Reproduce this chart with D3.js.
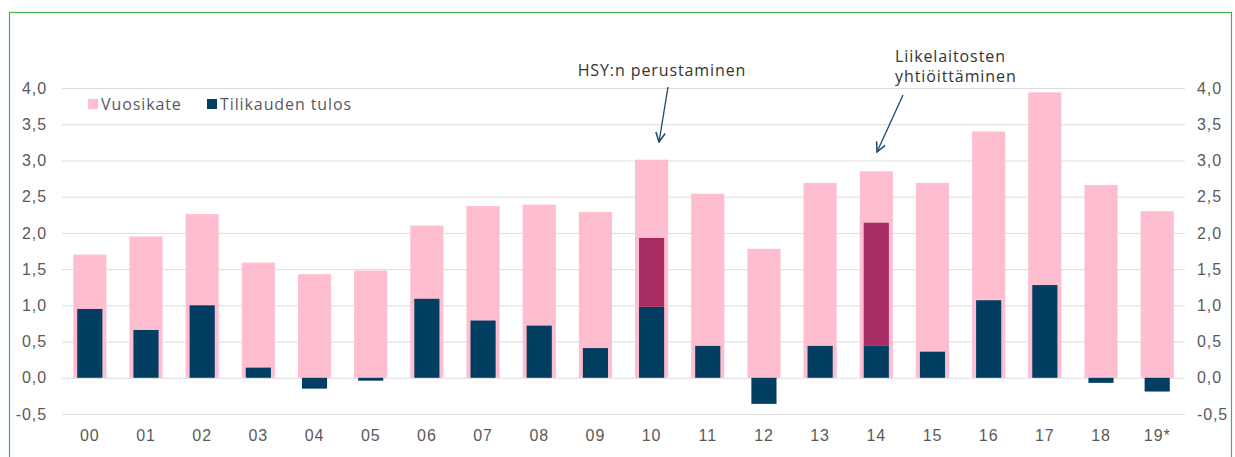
<!DOCTYPE html>
<html>
<head>
<meta charset="utf-8">
<script src="https://cdn.jsdelivr.net/npm/d3@7"></script>
<style>
  body { margin: 0; background: #fff; }
  svg { display: block; font-family: "Open Sans", sans-serif; letter-spacing: 0.9px; }
</style>
</head>
<body>
<div id="chart"></div>
<script>
// Data
const years = ["00", "01", "02", "03", "04", "05", "06", "07", "08", "09",
               "10", "11", "12", "13", "14", "15", "16", "17", "18", "19*"];
const vuosikate = [1.70, 1.95, 2.26, 1.59, 1.43, 1.48, 2.10, 2.37, 2.39, 2.29,
                   3.01, 2.54, 1.78, 2.69, 2.85, 2.69, 3.40, 3.94, 2.66, 2.30];
const tulos = [0.95, 0.66, 1.00, 0.14, -0.15, -0.04, 1.09, 0.79, 0.72, 0.41,
               0.98, 0.44, -0.36, 0.44, 0.44, 0.36, 1.07, 1.28, -0.07, -0.19];
// kertaluonteiset erät (purple part on top of tulos)
const kertaerat = [0, 0, 0, 0, 0, 0, 0, 0, 0, 0,
                   0.95, 0, 0, 0, 1.70, 0, 0, 0, 0, 0];
const yTicks = [-0.5, 0, 0.5, 1, 1.5, 2, 2.5, 3, 3.5, 4];
const legendLabels = ["Vuosikate", "Tilikauden tulos"];

const width = 1235, height = 457;
const margin = { top: 88, right: 50, bottom: 43, left: 62 };
const plotRight = 1185;
const fontSize = "16px";

const svg = d3.select("#chart").append("svg")
    .attr("width", width)
    .attr("height", height);

// vihreä kehys
svg.append("rect")
    .attr("x", 9.5).attr("y", 12.5)
    .attr("width", 1222).attr("height", 460)
    .attr("fill", "none")
    .attr("stroke", "#3cb44b")
    .attr("stroke-width", 1.2);

const x = d3.scaleBand()
    .domain(years)
    .range([margin.left, plotRight])
    .paddingInner(0.41)
    .paddingOuter(0.2);

const y = d3.scaleLinear()
    .domain([-0.5, 4])
    .range([414, 88]);

const fmt = d => d3.format(".1f")(d).replace(".", ",").replace("−", "-");

// grid
svg.append("g")
    .attr("transform", `translate(${margin.left},0)`)
    .call(d3.axisLeft(y).tickValues(yTicks).tickSize(-(plotRight - margin.left)).tickFormat(""))
    .call(g => g.select(".domain").remove())
    .selectAll("line")
    .attr("stroke", "#dcdcdc");

// vasen akseli
svg.append("g")
    .attr("transform", `translate(${margin.left},0)`)
    .call(d3.axisLeft(y).tickValues(yTicks).tickSize(0).tickPadding(15).tickFormat(fmt))
    .call(g => g.select(".domain").remove())
    .selectAll("text")
    .attr("fill", "#595959")
    .style("font-size", fontSize)
    .style("font-family", "inherit");

// oikea akseli
svg.append("g")
    .attr("transform", `translate(${plotRight},0)`)
    .call(d3.axisRight(y).tickValues(yTicks).tickSize(0).tickPadding(12).tickFormat(fmt))
    .call(g => g.select(".domain").remove())
    .selectAll("text")
    .attr("fill", "#595959")
    .style("font-size", fontSize)
    .style("font-family", "inherit");

// x-akseli
svg.append("g")
    .attr("transform", `translate(0,${y(-0.5)})`)
    .call(d3.axisBottom(x).tickSize(0).tickPadding(16))
    .call(g => g.select(".domain").remove())
    .selectAll("text")
    .attr("fill", "#595959")
    .style("font-size", fontSize)
    .style("font-family", "inherit");

const inset = 4;

// Vuosikate
svg.selectAll(".vk")
    .data(years)
    .enter()
    .append("rect")
    .attr("class", "vk")
    .attr("x", d => x(d))
    .attr("width", x.bandwidth())
    .attr("y", (d, i) => y(vuosikate[i]))
    .attr("height", (d, i) => y(0) - y(vuosikate[i]))
    .attr("fill", "#ffbdd0");

// Tilikauden tulos
svg.selectAll(".tt")
    .data(years)
    .enter()
    .append("rect")
    .attr("class", "tt")
    .attr("x", d => x(d) + inset)
    .attr("width", x.bandwidth() - 2 * inset)
    .attr("y", (d, i) => y(Math.max(0, tulos[i])))
    .attr("height", (d, i) => Math.abs(y(tulos[i]) - y(0)))
    .attr("fill", "#023e62");

// kertaluonteinen erä
svg.selectAll(".ke")
    .data(years.filter((d, i) => kertaerat[i] > 0))
    .enter()
    .append("rect")
    .attr("class", "ke")
    .attr("x", d => x(d) + inset)
    .attr("width", x.bandwidth() - 2 * inset)
    .attr("y", d => { const i = years.indexOf(d); return y(tulos[i] + kertaerat[i]); })
    .attr("height", d => { const i = years.indexOf(d); return y(tulos[i]) - y(tulos[i] + kertaerat[i]); })
    .attr("fill", "#a62c63");

// selite
const legend = svg.append("g").attr("transform", "translate(88,104)");
const legendColors = ["#ffbdd0", "#023e62"];
const legendX = [0, 119];
legendLabels.forEach((label, i) => {
    legend.append("rect")
        .attr("x", legendX[i]).attr("y", -5)
        .attr("width", 10).attr("height", 10)
        .attr("fill", legendColors[i]);
    legend.append("text")
        .attr("x", legendX[i] + 13).attr("y", 0)
        .attr("dy", "0.35em")
        .attr("fill", "#595959")
        .style("font-size", fontSize)
        .text(label);
});

// huomautukset
svg.append("defs").append("marker")
    .attr("id", "arrow")
    .attr("viewBox", "0 0 10 10")
    .attr("refX", 9).attr("refY", 5)
    .attr("markerWidth", 9).attr("markerHeight", 9)
    .attr("orient", "auto")
    .append("path")
    .attr("d", "M1,1 L9,5 L1,9")
    .attr("fill", "none")
    .attr("stroke", "#1d4a66")
    .attr("stroke-width", 1.3);

svg.append("text")
    .attr("x", 662).attr("y", 76)
    .attr("text-anchor", "middle")
    .attr("fill", "#333")
    .style("font-size", fontSize)
    .text("HSY:n perustaminen");

svg.append("line")
    .attr("x1", 668).attr("y1", 87)
    .attr("x2", 659).attr("y2", 142)
    .attr("stroke", "#1d4a66")
    .attr("stroke-width", 1.3)
    .attr("marker-end", "url(#arrow)");

const note2 = svg.append("text")
    .attr("x", 895).attr("y", 62)
    .attr("fill", "#333")
    .style("font-size", fontSize);
note2.append("tspan").attr("x", 895).text("Liikelaitosten");
note2.append("tspan").attr("x", 895).attr("dy", 20).text("yhtiöittäminen");

svg.append("line")
    .attr("x1", 903).attr("y1", 95)
    .attr("x2", 877).attr("y2", 152)
    .attr("stroke", "#1d4a66")
    .attr("stroke-width", 1.3)
    .attr("marker-end", "url(#arrow)");
</script>
</body>
</html>
